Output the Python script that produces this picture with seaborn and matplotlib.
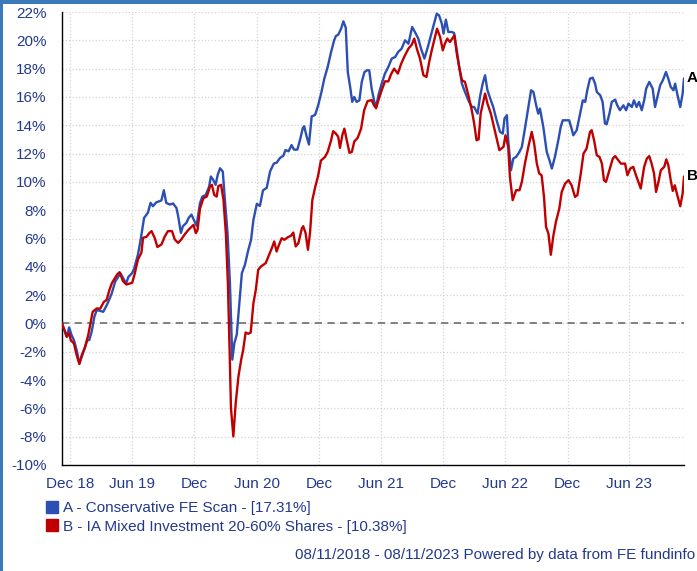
import numpy as np
import pandas as pd
import matplotlib
matplotlib.use('Agg')
import matplotlib.pyplot as plt
from matplotlib.patches import Patch, Rectangle
import seaborn as sns

# data (days since 08/11/2018, cumulative % return)
start_date = '2018-11-08'
end_date = '2023-11-08'

a_days = [0, 14, 21, 28, 35, 43, 51, 58, 68, 74, 80, 87, 95, 102, 112, 121, 129, 136, 146, 156,
          165, 172, 180, 188, 195, 205, 211, 223, 231, 241, 252, 260, 267, 277, 287, 292, 299, 306, 316, 326,
          336, 341, 349, 355, 365, 372, 380, 395, 405, 412, 422, 432, 437, 444, 451, 457, 464, 472, 479, 486,
          493, 500, 506, 513, 520, 528, 537, 547, 555, 562, 572, 581, 590, 601, 611, 622, 630, 640, 650, 656,
          665, 674, 681, 691, 699, 707, 711, 718, 725, 733, 743, 752, 762, 770, 780, 790, 799, 804, 811, 819,
          826, 833, 839, 846, 852, 858, 865, 873, 880, 888, 895, 902, 909, 917, 922, 929, 937, 948, 958, 968,
          978, 987, 997, 1007, 1017, 1028, 1036, 1046, 1054, 1064, 1074, 1083, 1093, 1100, 1107, 1115, 1120, 1127, 1134, 1144,
          1151, 1159, 1166, 1174, 1183, 1193, 1203, 1210, 1220, 1227, 1235, 1242, 1249, 1259, 1266, 1276, 1286, 1294, 1299, 1306,
          1310, 1318, 1325, 1333, 1343, 1350, 1359, 1369, 1377, 1384, 1392, 1398, 1403, 1413, 1423, 1431, 1438, 1447, 1457, 1464,
          1470, 1482, 1489, 1496, 1501, 1511, 1521, 1529, 1536, 1542, 1550, 1558, 1565, 1570, 1580, 1587, 1594, 1599, 1607, 1614,
          1624, 1630, 1638, 1648, 1656, 1663, 1673, 1679, 1687, 1694, 1702, 1709, 1715, 1724, 1734, 1741, 1748, 1756, 1764, 1773,
          1780, 1787, 1795, 1800, 1807, 1815, 1822, 1826]
a_vals = [0, -0.94, -0.28, -0.82, -1.18, -1.88, -2.82, -2.35, -1.65, -1.18, -1.18, -0.59, 0.47, 0.94, 0.89, 0.82, 1.18, 1.53, 2.12, 2.94,
          3.29, 3.53, 3.18, 2.82, 3.29, 3.53, 3.81, 4.87, 5.93, 7.46, 7.81, 8.52, 8.28, 8.56, 8.64, 8.7, 9.41, 8.52, 8.4, 8.47,
          8.16, 7.58, 6.4, 6.87, 7.1, 7.46, 7.69, 6.9, 8.49, 8.96, 9.08, 9.67, 10.38, 10.14, 9.79, 10.49, 10.96, 10.73, 8.49, 6.38,
          2.85, -2.56, -1.39, -0.8, 1.2, 3.55, 4.14, 5.2, 5.9, 7.32, 8.45, 8.3, 9.4, 9.58, 10.75, 11.3, 11.35, 11.69, 11.85, 12.25,
          12.16, 12.6, 12.28, 12.28, 12.99, 13.81, 13.93, 13.22, 12.64, 14.63, 14.73, 15.4, 16.38, 17.29, 18.12, 19.18, 20.0, 20.3, 20.4, 20.8,
          21.34, 20.9, 17.76, 16.7, 15.65, 16.0, 15.65, 15.76, 17.06, 17.76, 17.88, 17.88, 16.59, 15.65, 15.29, 16.12, 16.82, 17.65, 18.12, 18.71,
          18.82, 19.18, 19.41, 20.0, 19.76, 20.94, 20.59, 20.12, 19.41, 18.71, 19.53, 20.35, 21.29, 21.88, 21.76, 21.18, 20.47, 21.46, 20.59, 20.59,
          20.52, 19.29, 18.12, 16.94, 16.35, 15.76, 15.29, 15.29, 14.82, 16.0, 16.94, 17.53, 16.47, 15.76, 15.29, 14.35, 13.53, 13.41, 14.47, 14.71,
          12.94, 10.82, 11.65, 11.76, 12.12, 12.47, 13.76, 15.29, 16.47, 16.35, 15.41, 14.82, 15.18, 13.88, 12.12, 11.53, 10.94, 11.76, 12.94, 13.88,
          14.35, 14.35, 14.35, 13.76, 13.29, 13.65, 14.82, 15.76, 15.65, 16.47, 17.29, 17.36, 16.94, 16.35, 16.12, 15.65, 14.12, 14.07, 14.82, 15.65,
          15.81, 15.41, 15.06, 15.41, 15.06, 15.53, 15.29, 15.76, 15.29, 15.65, 15.06, 15.76, 16.59, 17.06, 16.59, 15.29, 16.0, 16.82, 17.18, 17.76,
          17.29, 16.71, 16.47, 16.94, 16.12, 15.29, 16.24, 17.31]

b_days = [0, 14, 21, 26, 35, 43, 51, 58, 68, 77, 90, 102, 112, 123, 131, 139, 146, 150, 162, 169,
          179, 189, 199, 206, 213, 223, 233, 238, 248, 257, 263, 267, 272, 280, 292, 302, 311, 323, 331, 341,
          350, 360, 371, 386, 393, 398, 405, 415, 425, 435, 440, 447, 454, 459, 467, 474, 481, 487, 492, 496,
          503, 510, 518, 526, 532, 539, 547, 554, 562, 569, 576, 584, 591, 598, 606, 616, 623, 630, 637, 645,
          653, 663, 672, 679, 686, 694, 704, 708, 715, 722, 728, 735, 743, 752, 760, 772, 780, 790, 796, 804,
          811, 816, 823, 829, 836, 844, 851, 858, 868, 878, 887, 897, 909, 916, 922, 930, 939, 948, 958, 966,
          975, 986, 995, 1005, 1017, 1027, 1034, 1043, 1051, 1061, 1070, 1078, 1086, 1095, 1101, 1110, 1118, 1124, 1131, 1139,
          1152, 1159, 1166, 1174, 1183, 1193, 1203, 1210, 1217, 1223, 1229, 1242, 1249, 1259, 1268, 1276, 1284, 1296, 1302, 1310,
          1315, 1323, 1333, 1343, 1350, 1359, 1369, 1379, 1386, 1394, 1401, 1408, 1415, 1421, 1428, 1435, 1442, 1450, 1460, 1467,
          1477, 1487, 1496, 1506, 1513, 1523, 1531, 1540, 1550, 1555, 1562, 1570, 1578, 1585, 1591, 1597, 1607, 1617, 1624, 1633,
          1641, 1653, 1660, 1668, 1677, 1685, 1692, 1699, 1709, 1717, 1724, 1731, 1738, 1744, 1751, 1758, 1768, 1774, 1780, 1787,
          1793, 1799, 1805, 1815, 1822, 1826]
b_vals = [0, -0.94, -0.7, -1.2, -1.41, -2.24, -2.87, -2.24, -1.65, -0.82, 0.82, 1.06, 1.04, 1.53, 1.65, 2.35, 2.82, 2.99, 3.46, 3.62,
          2.99, 2.75, 2.82, 2.87, 3.46, 4.52, 4.99, 6.05, 6.12, 6.4, 6.52, 6.3, 6.05, 5.4, 5.58, 6.16, 6.52, 6.52, 5.93, 5.69,
          5.93, 6.28, 6.61, 6.96, 6.38, 6.61, 8.1, 8.85, 8.96, 9.7, 9.79, 9.08, 8.96, 9.7, 9.79, 8.73, 6.38, 2.85, -1.86, -5.98,
          -7.98, -5.62, -3.74, -2.56, -1.86, -0.64, -0.73, -0.64, 1.44, 2.38, 3.79, 4.02, 4.14, 4.26, 4.73, 5.32, 5.79, 5.08, 5.55, 6.02,
          5.91, 6.09, 6.19, 6.42, 5.44, 5.67, 6.7, 6.87, 6.4, 5.2, 6.38, 8.73, 9.6, 10.45, 11.5, 11.76, 12.12, 12.94, 13.58, 13.41,
          13.18, 12.4, 13.3, 13.76, 12.94, 12.05, 12.12, 12.85, 13.11, 13.76, 15.06, 15.7, 15.78, 15.41, 15.2, 15.85, 16.5, 17.1, 17.1, 17.6,
          18.0, 17.65, 18.3, 18.85, 19.41, 19.7, 20.12, 19.3, 18.71, 17.53, 17.41, 18.47, 19.35, 20.24, 20.82, 20.24, 19.29, 19.76, 20.12, 19.88,
          20.35, 19.06, 18.12, 17.18, 17.06, 16.12, 15.06, 14.12, 12.94, 13.0, 14.82, 16.24, 15.53, 14.82, 13.88, 13.06, 12.24, 12.47, 13.29, 12.47,
          10.35, 8.71, 9.41, 9.41, 10.0, 11.29, 12.47, 13.53, 12.71, 11.29, 10.59, 10.47, 8.94, 6.82, 6.35, 4.85, 6.12, 7.18, 8.12, 9.29,
          9.88, 10.12, 9.76, 8.94, 9.06, 10.59, 12.0, 12.35, 13.53, 13.65, 12.94, 11.88, 11.76, 11.29, 10.12, 10.0, 10.82, 11.65, 11.82, 11.53,
          11.29, 11.29, 10.47, 10.94, 11.06, 10.47, 10.0, 9.53, 11.06, 11.65, 11.82, 11.29, 10.59, 9.29, 10.0, 10.82, 11.06, 11.59, 11.18, 10.12,
          9.36, 9.76, 9.18, 8.28, 9.18, 10.38]

series_names = ['A', 'B']
legend_labels = ['A - Conservative FE Scan - [17.31%]',
                 'B - IA Mixed Investment 20-60% Shares - [10.38%]']
tick_dates = ['2018-12-01', '2019-06-01', '2019-12-01', '2020-06-01', '2020-12-01',
              '2021-06-01', '2021-12-01', '2022-06-01', '2022-12-01', '2023-06-01']
tick_labels = ['Dec 18', 'Jun 19', 'Dec', 'Jun 20', 'Dec', 'Jun 21', 'Dec', 'Jun 22', 'Dec', 'Jun 23']
footer = '08/11/2018 - 08/11/2023 Powered by data from FE fundinfo'

colors = {'A': '#2B4FB3', 'B': '#C00000'}
text_col = '#23398C'

start = pd.Timestamp(start_date)
df = pd.concat([
    pd.DataFrame({'date': start + pd.to_timedelta(a_days, unit='D'), 'value': a_vals, 'series': 'A'}),
    pd.DataFrame({'date': start + pd.to_timedelta(b_days, unit='D'), 'value': b_vals, 'series': 'B'}),
])

sns.set_style('white')
plt.rcParams['font.family'] = ['Liberation Sans', 'DejaVu Sans']

fig = plt.figure(figsize=(6.97, 5.71), dpi=100)
ax = fig.add_axes([62 / 697, 1 - 465 / 571, 622 / 697, 453 / 571])

ax.axhline(0, color='#777777', linestyle=(0, (4, 3)), lw=1.3, zorder=1)
sns.lineplot(data=df, x='date', y='value', hue='series', palette=colors,
             linewidth=1.7, legend=False, ax=ax, zorder=3)

end = pd.Timestamp(end_date)
ax.set_xlim(start, end)
ax.set_ylim(-10, 22)
yt = np.arange(-10, 23, 2)
ax.set_yticks(yt)
ax.set_yticklabels([f'{v}%' for v in yt])
ax.set_xticks([start] + list(pd.to_datetime(tick_dates)) + [end])
ax.set_xticklabels([''] + tick_labels + [''])
ax.set_xlabel('')
ax.set_ylabel('')

ax.grid(True, linestyle=':', color='#d4d4d4', linewidth=0.9)
ax.tick_params(axis='both', length=4, width=1, color='black', direction='out',
               labelcolor=text_col, labelsize=11)
ax.tick_params(axis='y', pad=7)
ax.tick_params(axis='x', pad=5)
for s in ['top', 'right']:
    ax.spines[s].set_visible(False)
for s in ['left', 'bottom']:
    ax.spines[s].set_color('black')
    ax.spines[s].set_linewidth(1)

# end labels
for name, vals in zip(series_names, [a_vals, b_vals]):
    ax.annotate(name, xy=(end, vals[-1]), xytext=(2, 0), textcoords='offset points',
                fontsize=11, fontweight='bold', color='black', va='center', ha='left',
                annotation_clip=False)

handles = [Patch(facecolor=colors[n], edgecolor=colors[n]) for n in series_names]
leg = fig.legend(handles, legend_labels, loc='upper left', bbox_to_anchor=(46 / 697, 1 - 501 / 571),
                 frameon=False, fontsize=11, handlelength=0.8, handleheight=0.85,
                 handletextpad=0.3, labelspacing=0.25, borderaxespad=0, borderpad=0)
for t in leg.get_texts():
    t.set_color(text_col)

fig.text(695 / 697, 1 - 555 / 571, footer, ha='right', va='center', fontsize=11, color=text_col)

# frame of the widget
fig.add_artist(Rectangle((0, 1 - 4 / 571), 1, 4 / 571, transform=fig.transFigure,
                         color='#3A7AB8', lw=0))
fig.add_artist(Rectangle((0, 0), 3 / 697, 1, transform=fig.transFigure,
                         color='#3A7AB8', lw=0))

fig.savefig('out.png', dpi=100)
